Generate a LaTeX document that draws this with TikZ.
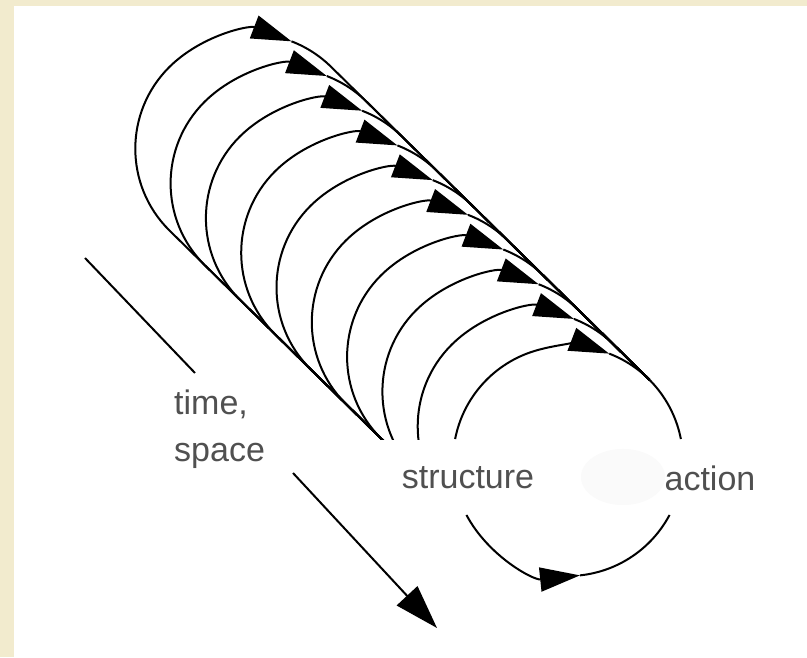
\documentclass[tikz,border=0pt]{standalone}
\usepackage{fontspec}
\setmainfont{Liberation Sans}
\usepackage{xcolor}
\usepackage{tikz}
\usetikzlibrary{arrows.meta, calc}
\definecolor{paper}{RGB}{242,235,206}
\definecolor{wordgray}{RGB}{80,80,80}
\tikzstyle{loopline} = [line width=2pt, draw=black]
\tikzstyle{looptip} = [-{Triangle[length=40pt, width=24pt]}]
\tikzstyle{timetip} = [-{Triangle[length=44pt, width=28pt]}]
\tikzstyle{word} = [font=\fontsize{34}{47}\selectfont, text=wordgray, inner sep=0pt]

\begin{document}
\begin{tikzpicture}[x=1pt, y=1pt]
    % Frame
    \fill[paper] (0,0) rectangle (807,657);
    \fill[white] (14,0) rectangle (807,651);
    \useasboundingbox (0,0) rectangle (807,657);
    \fill[black!2] (623,180) ellipse [x radius=42, y radius=28];

    % Nodes
    \coordinate (c0) at (568,196);
    \node[word] (structure) at (468,179) {structure};
    \node[word] (action) at (710,179) {action};
    \node[word, align=left, anchor=north west] (timespace) at (174,267) {time,\\space};
    \coordinate (timetop) at (85,399);
    \coordinate (timeend) at (195,284);
    \coordinate (spacestart) at (293,184);
    \coordinate (spaceend) at (437,29);

    % Loops behind
    \begin{scope}
        \clip (0,217) rectangle (807,657);
        \foreach \k in {1,...,9} {
            \coordinate (c\k) at ($(c0)+\k*(-35.3,34.7)$);
            \draw[loopline, looptip] ($(c0)+(225:115)$) -- ($(c\k)+(225:115)$) arc[start angle=225, end angle=69, radius=115];
            \draw[loopline] ($(c\k)+(69:115)$) arc[start angle=69, end angle=45, radius=115] -- ($(c0)+(45:115)$);
        }
    \end{scope}

    % Front loop
    \draw[loopline, looptip] ($(c0)+(169:115)$) arc[start angle=169, end angle=69, radius=115];
    \draw[loopline] ($(c0)+(69:115)$) arc[start angle=69, end angle=11, radius=115];
    \draw[loopline, looptip] ($(c0)+(208:115)$) arc[start angle=208, end angle=276, radius=115];
    \draw[loopline] ($(c0)+(276:115)$) arc[start angle=276, end angle=332, radius=115];

    % Arrows
    \draw[loopline] (timetop) -- (timeend);
    \draw[loopline, timetip] (spacestart) -- (spaceend);
\end{tikzpicture}
\end{document}
